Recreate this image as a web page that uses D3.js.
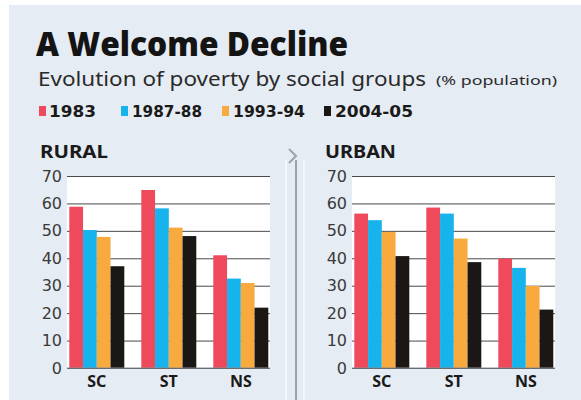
<!DOCTYPE html>
<html>
<head>
<meta charset="utf-8">
<script src="https://cdn.jsdelivr.net/npm/d3@7"></script>
<style>
body{margin:0;background:#fff;}
svg{display:block;}
.tick text{font-family:"DejaVu Sans",sans-serif;}
</style>
</head>
<body>
<div id="chart"></div>
<script>
var groups = ["SC","ST","NS"];
var years = ["1983","1987-88","1993-94","2004-05"];
var colors = ["#ef4a5b","#17b3ec","#f8aa3f","#1b1714"];
var ruralValues = [[58.8,50.3,47.8,37.1],[64.9,58.2,51.2,48.1],[41.1,32.6,31.0,22.0]];
var urbanValues = [[56.3,53.9,49.6,40.8],[58.5,56.3,47.2,38.6],[39.9,36.5,29.9,21.3]];
var yTicks = [0,10,20,30,40,50,60,70];

var w = 581, h = 400;
var svg = d3.select("#chart").append("svg")
  .attr("width", w)
  .attr("height", h);

// background panel
svg.append("rect")
  .attr("x", 9).attr("y", 5)
  .attr("width", w-9).attr("height", h-5)
  .style("fill", "#e6ecf3");

svg.append("text")
  .attr("x", 36).attr("y", 56)
  .attr("textLength", 312).attr("lengthAdjust", "spacingAndGlyphs")
  .style("font-family", "'Open Sans',sans-serif")
  .style("font-weight", 800)
  .style("font-size", "33px")
  .style("fill", "#141414")
  .text("A Welcome Decline");

svg.append("text")
  .attr("x", 38).attr("y", 86)
  .attr("textLength", 388).attr("lengthAdjust", "spacingAndGlyphs")
  .style("font-family", "'Noto Sans',sans-serif")
  .style("font-size", "19px")
  .style("fill", "#2a2a2a")
  .text("Evolution of poverty by social groups");

svg.append("text")
  .attr("x", 436).attr("y", 85)
  .attr("textLength", 121).attr("lengthAdjust", "spacingAndGlyphs")
  .style("font-family", "'Noto Sans',sans-serif")
  .style("font-size", "13px")
  .style("fill", "#2a2a2a")
  .text("(% population)");

// legend
var legX = [39,121,222,324];
var legW = [47,70,72,78];
var leg = svg.selectAll(".leg")
  .data(years)
  .enter()
  .append("g")
  .attr("class","leg")
  .attr("transform", function(d,i){return "translate(" + legX[i] + ",0)";});
leg.append("rect")
  .attr("x", 0).attr("y", 106)
  .attr("width", 7).attr("height", 10)
  .style("fill", function(d,i){return colors[i];});
leg.append("text")
  .attr("x", function(d,i){return i==0 ? 10 : 11;})
  .attr("y", 117)
  .attr("textLength", function(d,i){return legW[i];})
  .attr("lengthAdjust", "spacingAndGlyphs")
  .style("font-family", "'DejaVu Sans',sans-serif")
  .style("font-weight", "bold")
  .style("font-size", "15px")
  .style("fill", "#1a1a1a")
  .text(String);

var y = d3.scaleLinear()
  .domain([0,70])
  .range([368,176]);

function drawPanel(title, values, left, right, barStart, titleW){
  svg.append("text")
    .attr("x", left-27).attr("y", 158)
    .attr("textLength", titleW).attr("lengthAdjust", "spacingAndGlyphs")
    .style("font-family", "'Noto Sans',sans-serif")
    .style("font-weight", "bold")
    .style("font-size", "17px")
    .style("fill", "#1a1a1a")
    .text(title);

  svg.append("rect")
    .attr("x", left).attr("y", y(70))
    .attr("width", right-left).attr("height", y(0)-y(70))
    .style("fill", "#fff");

  var x = d3.scaleBand()
    .domain(groups)
    .range([barStart, barStart+199])
    .paddingInner(17/72)
    .paddingOuter(0);
  var xs = d3.scaleBand()
    .domain(years)
    .range([0, x.bandwidth()]);

  var yAxis = d3.axisLeft(y)
    .tickValues(yTicks)
    .tickSize(-(right-left))
    .tickPadding(5);
  var ga = svg.append("g")
    .attr("transform", "translate(" + left + ",0)")
    .call(yAxis);
  ga.select(".domain").remove();
  ga.selectAll(".tick line").style("stroke", "#4a4a4a").style("stroke-width", 1);
  ga.selectAll(".tick text")
    .style("font-size", "16px")
    .style("fill", "#3a3a3a");

  var g = svg.selectAll(".grp-" + title)
    .data(values)
    .enter()
    .append("g")
    .attr("transform", function(d,i){return "translate(" + x(groups[i]) + ",0)";});
  g.selectAll("rect")
    .data(function(d){return d;})
    .enter()
    .append("rect")
    .attr("x", function(d,i){return xs(years[i]);})
    .attr("y", function(d){return y(d);})
    .attr("width", xs.bandwidth())
    .attr("height", function(d){return y(0)-y(d);})
    .style("fill", function(d,i){return colors[i];});

  svg.append("line")
    .attr("x1", left).attr("x2", right)
    .attr("y1", y(0)).attr("y2", y(0))
    .style("stroke", "#8a8f96");

  var xAxis = d3.axisBottom(x).tickSize(0).tickPadding(8);
  var gx = svg.append("g")
    .attr("transform", "translate(0," + y(0) + ")")
    .call(xAxis);
  gx.select(".domain").remove();
  gx.selectAll(".tick text")
    .style("font-family", "'Noto Sans',sans-serif")
    .style("font-size", "16px")
    .style("font-weight", "bold")
    .style("fill", "#1a1a1a");
}

drawPanel("RURAL", ruralValues, 67, 270, 69.3, 68);
drawPanel("URBAN", urbanValues, 352, 555, 354.3, 71);

// separator between panels
svg.append("line")
  .attr("x1", 286).attr("x2", 286).attr("y1", 160).attr("y2", h)
  .style("stroke", "#f4f7fa").style("stroke-width", 2);
svg.append("line")
  .attr("x1", 304).attr("x2", 304).attr("y1", 160).attr("y2", h)
  .style("stroke", "#f4f7fa").style("stroke-width", 2);
svg.append("path")
  .attr("d", "M289,149L296,156L289,163M296,160L296," + h)
  .style("fill", "none")
  .style("stroke", "#9aa3ae")
  .style("stroke-width", 2);
</script>
</body>
</html>
